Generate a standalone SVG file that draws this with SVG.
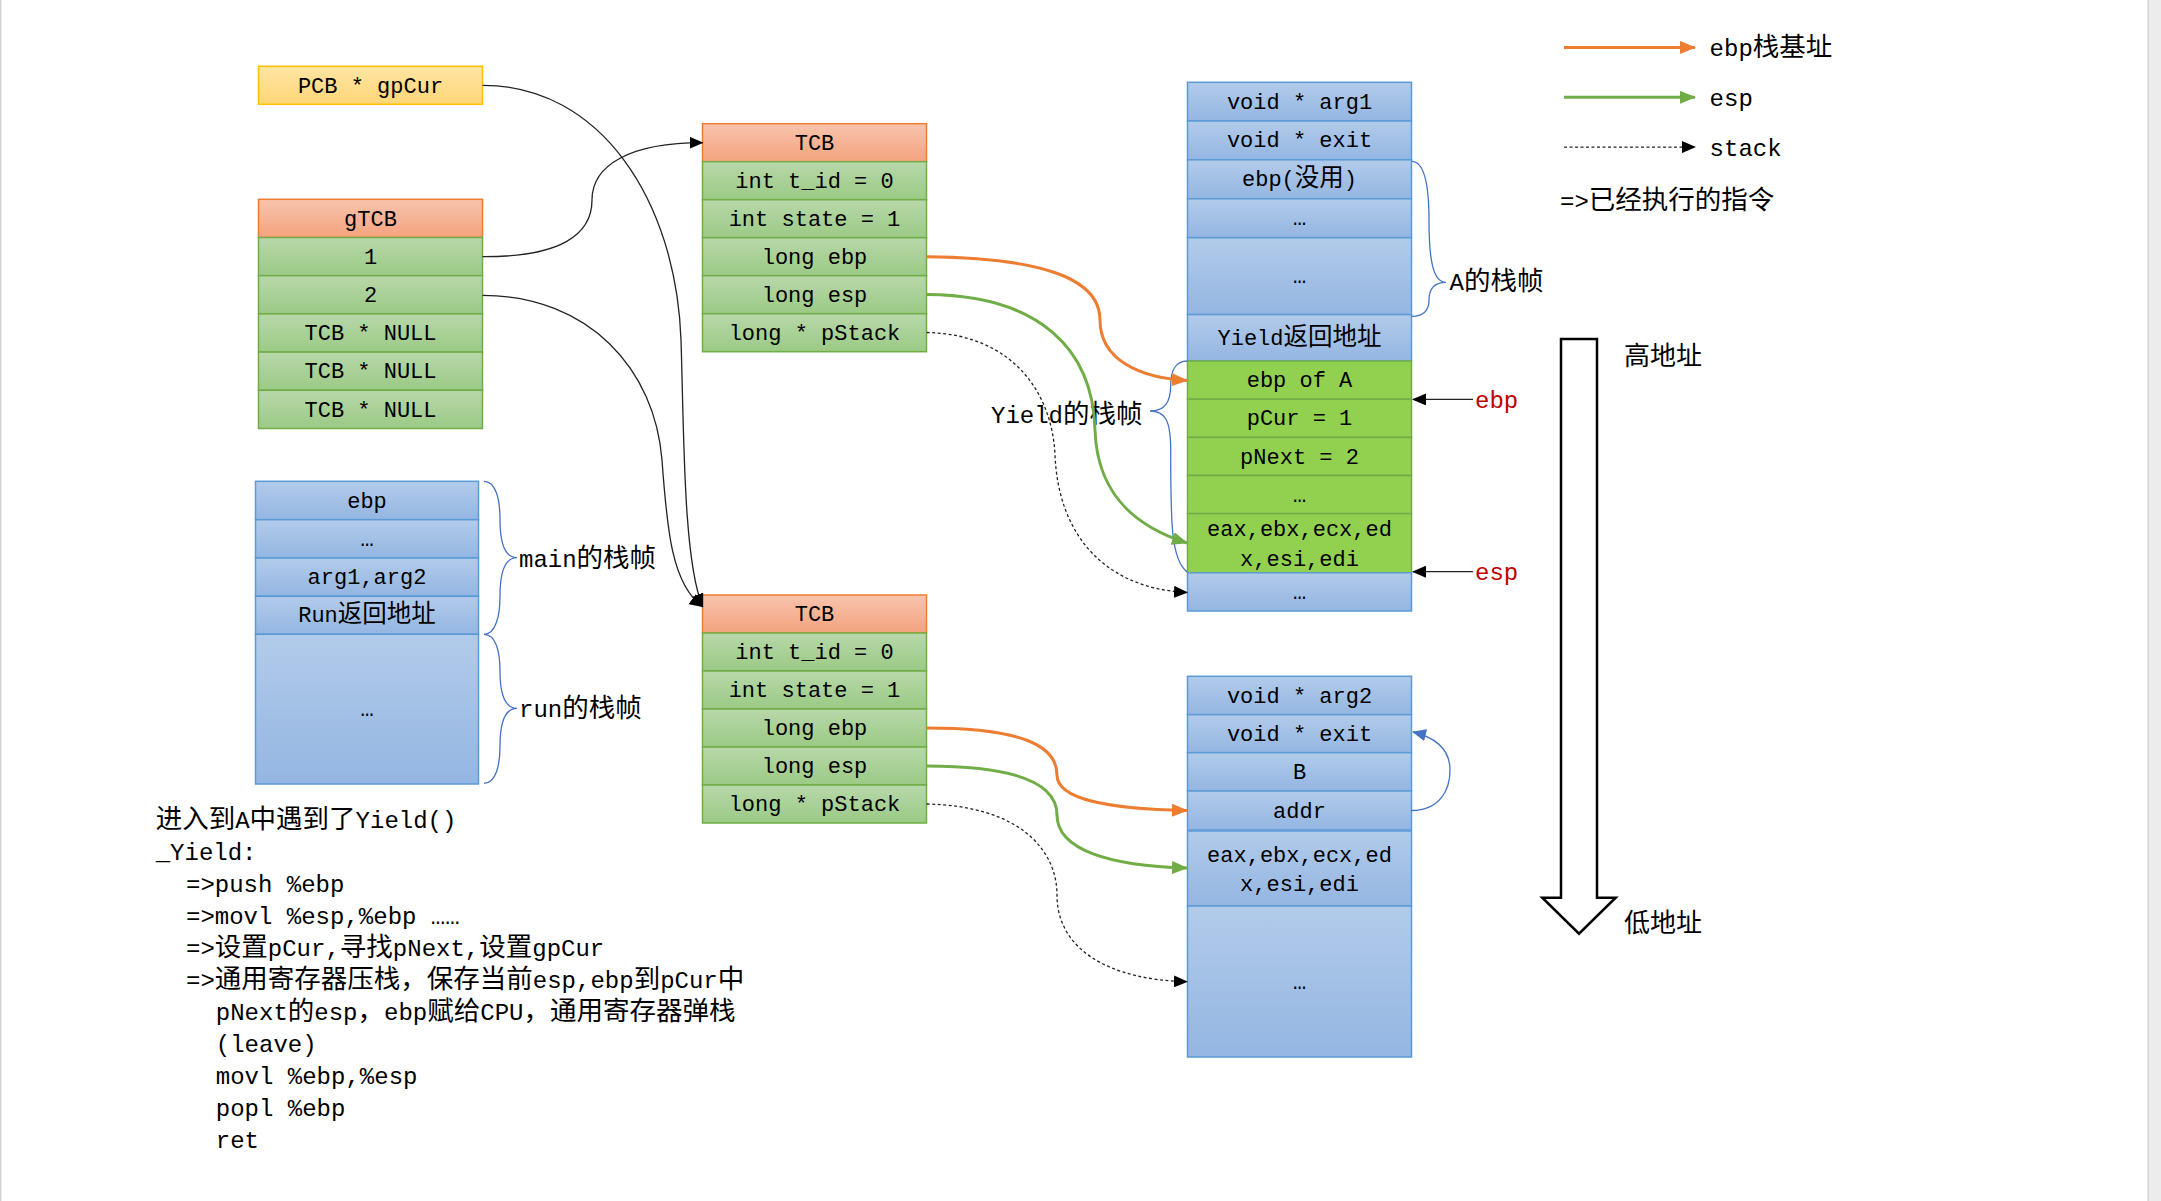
<svg xmlns="http://www.w3.org/2000/svg" width="2161" height="1201" viewBox="0 0 2161 1201">
<style>
.m{font-family:"Liberation Mono","Noto Sans CJK SC",monospace;font-size:22px;fill:#000}
.c{font-size:24.5px}
.l{font-family:"Liberation Mono","Noto Sans CJK SC",monospace;font-size:24px;fill:#000}
.lc{font-size:26.5px}
.cj{font-family:"Noto Sans CJK SC",sans-serif;font-size:26px;fill:#000}
.mid{text-anchor:middle}
.red{fill:#c00000}
.y{fill:url(#gY);stroke:#ffc000;stroke-width:1.5}
.o{fill:url(#gO);stroke:#ed7d31;stroke-width:1.5}
.g{fill:url(#gG);stroke:#70ad47;stroke-width:1.5}
.b{fill:url(#gB);stroke:#5b9bd5;stroke-width:1.5}
.bg{fill:#92d050;stroke:#70ad47;stroke-width:1.5}
.k{fill:none;stroke:#222;stroke-width:1.3}
.d{fill:none;stroke:#222;stroke-width:1.3;stroke-dasharray:3 2.5}
.or{fill:none;stroke:#ed7d31;stroke-width:3}
.gr{fill:none;stroke:#70ad47;stroke-width:3}
.br{fill:none;stroke:#4472c4;stroke-width:1.3}
</style>
<defs>
<linearGradient id="gY" x1="0" y1="0" x2="0" y2="1"><stop offset="0" stop-color="#ffe5a2"/><stop offset="1" stop-color="#ffd678"/></linearGradient>
<linearGradient id="gO" x1="0" y1="0" x2="0" y2="1"><stop offset="0" stop-color="#f8c4ad"/><stop offset="1" stop-color="#f4a37e"/></linearGradient>
<linearGradient id="gG" x1="0" y1="0" x2="0" y2="1"><stop offset="0" stop-color="#b8d8aa"/><stop offset="1" stop-color="#9bca85"/></linearGradient>
<linearGradient id="gB" x1="0" y1="0" x2="0" y2="1"><stop offset="0" stop-color="#b2cbea"/><stop offset="1" stop-color="#94b6e2"/></linearGradient>
<marker id="aK" markerUnits="userSpaceOnUse" markerWidth="14" markerHeight="12" viewBox="0 0 14 12" refX="13" refY="6" orient="auto"><path d="M0,0L14,6L0,12z" fill="#000"/></marker>
<marker id="aO" markerUnits="userSpaceOnUse" markerWidth="16" markerHeight="13" viewBox="0 0 16 13" refX="15" refY="6.5" orient="auto"><path d="M0,0L16,6.5L0,13z" fill="#ed7d31"/></marker>
<marker id="aG" markerUnits="userSpaceOnUse" markerWidth="16" markerHeight="13" viewBox="0 0 16 13" refX="15" refY="6.5" orient="auto"><path d="M0,0L16,6.5L0,13z" fill="#70ad47"/></marker>
<marker id="aB" markerUnits="userSpaceOnUse" markerWidth="14" markerHeight="12" viewBox="0 0 14 12" refX="13" refY="6" orient="auto"><path d="M0,0L14,6L0,12z" fill="#4472c4"/></marker>
</defs>
<rect x="0" y="0" width="2161" height="1201" fill="#fff"/>
<rect x="0" y="0" width="1.5" height="1201" fill="#d4d4d4"/>
<rect x="2148" y="0" width="13" height="1201" fill="#ececec"/>
<rect x="2147.5" y="0" width="1.2" height="1201" fill="#cfcfcf"/>

<g id="pcb">
<rect class="y" x="258.5" y="66.3" width="224" height="38"/>
<text class="m mid" x="370.5" y="92.5">PCB * gpCur</text>
</g>

<g id="gtcb">
<rect class="o" x="258.5" y="199.3" width="224" height="38.2"/>
<rect class="g" x="258.5" y="237.5" width="224" height="38.2"/>
<rect class="g" x="258.5" y="275.7" width="224" height="38.2"/>
<rect class="g" x="258.5" y="313.9" width="224" height="38.2"/>
<rect class="g" x="258.5" y="352.1" width="224" height="38.2"/>
<rect class="g" x="258.5" y="390.3" width="224" height="38.2"/>
<text class="m mid" x="370.5" y="225.5">gTCB</text>
<text class="m mid" x="370.5" y="263.7">1</text>
<text class="m mid" x="370.5" y="301.9">2</text>
<text class="m mid" x="370.5" y="340.1">TCB * NULL</text>
<text class="m mid" x="370.5" y="378.3">TCB * NULL</text>
<text class="m mid" x="370.5" y="416.5">TCB * NULL</text>
</g>

<g id="tcb1">
<rect class="o" x="702.5" y="123.7" width="224" height="38"/>
<rect class="g" x="702.5" y="161.7" width="224" height="38"/>
<rect class="g" x="702.5" y="199.7" width="224" height="38"/>
<rect class="g" x="702.5" y="237.7" width="224" height="38"/>
<rect class="g" x="702.5" y="275.7" width="224" height="38"/>
<rect class="g" x="702.5" y="313.7" width="224" height="38"/>
<text class="m mid" x="814.5" y="149.7">TCB</text>
<text class="m mid" x="814.5" y="187.7">int t_id = 0</text>
<text class="m mid" x="814.5" y="225.7">int state = 1</text>
<text class="m mid" x="814.5" y="263.7">long ebp</text>
<text class="m mid" x="814.5" y="301.7">long esp</text>
<text class="m mid" x="814.5" y="339.7">long * pStack</text>
</g>

<g id="tcb2">
<rect class="o" x="702.5" y="595" width="224" height="38"/>
<rect class="g" x="702.5" y="633" width="224" height="38"/>
<rect class="g" x="702.5" y="671" width="224" height="38"/>
<rect class="g" x="702.5" y="709" width="224" height="38"/>
<rect class="g" x="702.5" y="747" width="224" height="38"/>
<rect class="g" x="702.5" y="785" width="224" height="38"/>
<text class="m mid" x="814.5" y="621">TCB</text>
<text class="m mid" x="814.5" y="659">int t_id = 0</text>
<text class="m mid" x="814.5" y="697">int state = 1</text>
<text class="m mid" x="814.5" y="735">long ebp</text>
<text class="m mid" x="814.5" y="773">long esp</text>
<text class="m mid" x="814.5" y="811">long * pStack</text>
</g>

<g id="stackA">
<rect class="b" x="1187.5" y="82.3" width="224" height="38.7"/>
<rect class="b" x="1187.5" y="121" width="224" height="38.8"/>
<rect class="b" x="1187.5" y="159.8" width="224" height="39"/>
<rect class="b" x="1187.5" y="198.8" width="224" height="38.9"/>
<rect class="b" x="1187.5" y="237.7" width="224" height="76.9"/>
<rect class="b" x="1187.5" y="314.6" width="224" height="46.4"/>
<rect class="bg" x="1187.5" y="361" width="224" height="38.2"/>
<rect class="bg" x="1187.5" y="399.2" width="224" height="38.2"/>
<rect class="bg" x="1187.5" y="437.4" width="224" height="38.1"/>
<rect class="bg" x="1187.5" y="475.5" width="224" height="38.1"/>
<rect class="bg" x="1187.5" y="513.6" width="224" height="59.2"/>
<rect class="b" x="1187.5" y="572.8" width="224" height="38.2"/>
<text class="m mid" x="1299.5" y="108.6">void * arg1</text>
<text class="m mid" x="1299.5" y="147.4">void * exit</text>
<text class="m mid" x="1299.5" y="186.3">ebp(<tspan class="c">没用</tspan>)</text>
<text class="m mid" x="1299.5" y="225.3">…</text>
<text class="m mid" x="1299.5" y="283.2">…</text>
<text class="m mid" x="1299.5" y="345">Yield<tspan class="c">返回地址</tspan></text>
<text class="m mid" x="1299.5" y="387.1">ebp of A</text>
<text class="m mid" x="1299.5" y="425.3">pCur = 1</text>
<text class="m mid" x="1299.5" y="463.5">pNext = 2</text>
<text class="m mid" x="1299.5" y="501.5">…</text>
<text class="m mid" x="1299.5" y="536.4">eax,ebx,ecx,ed</text>
<text class="m mid" x="1299.5" y="565.7">x,esi,edi</text>
<text class="m mid" x="1299.5" y="599">…</text>
</g>

<g id="stackB">
<rect class="b" x="1187.5" y="676.3" width="224" height="38.4"/>
<rect class="b" x="1187.5" y="714.7" width="224" height="38"/>
<rect class="b" x="1187.5" y="752.7" width="224" height="38.3"/>
<rect class="b" x="1187.5" y="791" width="224" height="39"/>
<rect class="b" x="1187.5" y="831" width="224" height="75"/>
<rect class="b" x="1187.5" y="906" width="224" height="151"/>
<text class="m mid" x="1299.5" y="702.5">void * arg2</text>
<text class="m mid" x="1299.5" y="740.7">void * exit</text>
<text class="m mid" x="1299.5" y="778.9">B</text>
<text class="m mid" x="1299.5" y="817.5">addr</text>
<text class="m mid" x="1299.5" y="862">eax,ebx,ecx,ed</text>
<text class="m mid" x="1299.5" y="891.3">x,esi,edi</text>
<text class="m mid" x="1299.5" y="988.5">…</text>
</g>

<g id="stackMain">
<rect class="b" x="255.5" y="481.3" width="223" height="38.4"/>
<rect class="b" x="255.5" y="519.7" width="223" height="38.3"/>
<rect class="b" x="255.5" y="558" width="223" height="38.3"/>
<rect class="b" x="255.5" y="596.3" width="223" height="38"/>
<rect class="b" x="255.5" y="634.3" width="223" height="149.7"/>
<text class="m mid" x="367" y="507.5">ebp</text>
<text class="m mid" x="367" y="545.9">…</text>
<text class="m mid" x="367" y="584.2">arg1,arg2</text>
<text class="m mid" x="367" y="622.3">Run<tspan class="c">返回地址</tspan></text>
<text class="m mid" x="367" y="716">…</text>
</g>

<g id="braces">
<path class="br" d="M484,481.3C496,481.3 500,500 500,519.5C500,540 504,557.7 517,557.7C504,557.7 500,576 500,596C500,615 496,634.3 484,634.3"/>
<path class="br" d="M484,634.3C496,634.3 500,652 500,671C500,692 504,708.3 517,708.3C504,708.3 500,725 500,746C500,765 496,783.3 484,783.3"/>
<path class="br" d="M1411.6,161.3C1424,161.3 1429,185 1429,220C1429,260 1433,282.3 1446,282.3C1433,282.3 1429,290 1429,300C1429,310 1424,316.3 1411.6,316.3"/>
<path class="br" d="M1187.3,361C1175,361 1170.7,372 1170.7,385C1170.7,402 1165,411 1150,411C1165,411 1170.7,420 1170.7,450C1170.7,520 1170.7,560 1187.3,572"/>
<text class="l" x="519" y="566.5">main<tspan class="lc">的栈帧</tspan></text>
<text class="l" x="519" y="717">run<tspan class="lc">的栈帧</tspan></text>
<text class="l" x="1449.5" y="289.5">A<tspan class="lc">的栈帧</tspan></text>
<text class="l" x="991" y="423">Yield<tspan class="lc">的栈帧</tspan></text>
</g>

<g id="legend">
<path class="or" d="M1564,47.4H1695" marker-end="url(#aO)"/>
<path class="gr" d="M1564,97.3H1695" marker-end="url(#aG)"/>
<path class="d" d="M1564,147.1H1695" marker-end="url(#aK)"/>
<text class="l" x="1709.6" y="56">ebp<tspan class="lc">栈基址</tspan></text>
<text class="l" x="1709.6" y="106">esp</text>
<text class="l" x="1709.6" y="156">stack</text>
<text class="l" x="1560" y="208.5">=&gt;<tspan class="lc">已经执行的指令</tspan></text>
</g>

<g id="pointers">
<path class="k" d="M1473,399.4H1413" marker-end="url(#aK)"/>
<path class="k" d="M1473,571.7H1413" marker-end="url(#aK)"/>
<text class="l red" x="1475" y="407.5">ebp</text>
<text class="l red" x="1475" y="579.5">esp</text>
</g>

<g id="addrArrow">
<polygon points="1561,338.9 1597,338.9 1597,897.7 1615.7,897.7 1579,933.7 1542.3,897.7 1561,897.7" fill="#fff" stroke="#000" stroke-width="2.5"/>
<text class="cj" x="1624" y="365">高地址</text>
<text class="cj" x="1624" y="932">低地址</text>
</g>

<g id="notes">
<text class="l" x="155.7" y="828"><tspan class="lc">进入到</tspan>A<tspan class="lc">中遇到了</tspan>Yield()</text>
<text class="l" x="155.7" y="860">_Yield:</text>
<text class="l" x="186" y="892">=&gt;push %ebp</text>
<text class="l" x="186" y="924">=&gt;movl %esp,%ebp ……</text>
<text class="l" x="186" y="956">=&gt;<tspan class="lc">设置</tspan>pCur,<tspan class="lc">寻找</tspan>pNext,<tspan class="lc">设置</tspan>gpCur</text>
<text class="l" x="186" y="988">=&gt;<tspan class="lc">通用寄存器压栈，保存当前</tspan>esp,ebp<tspan class="lc">到</tspan>pCur<tspan class="lc">中</tspan></text>
<text class="l" x="215.8" y="1020">pNext<tspan class="lc">的</tspan>esp<tspan class="lc">，</tspan>ebp<tspan class="lc">赋给</tspan>CPU<tspan class="lc">，通用寄存器弹栈</tspan></text>
<text class="l" x="215.8" y="1052">(leave)</text>
<text class="l" x="215.8" y="1084">movl %ebp,%esp</text>
<text class="l" x="215.8" y="1116">popl %ebp</text>
<text class="l" x="215.8" y="1148">ret</text>
</g>

<g id="connectors">
<path class="k" d="M482.6,85.3C600,85 676,200 681,340C684,430 683,560 702.7,606.7" marker-end="url(#aK)"/>
<path class="k" d="M482.6,256.7C560,257 592,235 592,200C592,165 630,142.7 702.5,142.7" marker-end="url(#aK)"/>
<path class="k" d="M482.6,295.3C590,296 655,370 662,460C667,530 672,585 702.7,606.7" marker-end="url(#aK)"/>
<path class="or" d="M926.6,256.7C1060,258 1100,285 1100,320C1100,360 1140,378 1187,380.5" marker-end="url(#aO)"/>
<path class="gr" d="M926.6,294.5C1040,295 1093,350 1095,430C1097,490 1130,525 1187,543" marker-end="url(#aG)"/>
<path class="d" d="M926.6,332.5C1010,334 1052,390 1055,455C1058,530 1100,588 1187,592.5" marker-end="url(#aK)"/>
<path class="or" d="M926.6,728C1020,728 1057,745 1057,775C1057,800 1110,809 1187,810.5" marker-end="url(#aO)"/>
<path class="gr" d="M926.6,766C1020,766 1057,785 1057,815C1057,850 1110,866 1187,868" marker-end="url(#aG)"/>
<path class="d" d="M926.6,804C1020,806 1057,850 1057,895C1057,950 1110,980 1187,981.7" marker-end="url(#aK)"/>
<path class="br" d="M1411.5,810.5C1440,810 1450,790 1450,770C1450,750 1437,738 1413,732" marker-end="url(#aB)"/>
</g>
</svg>
